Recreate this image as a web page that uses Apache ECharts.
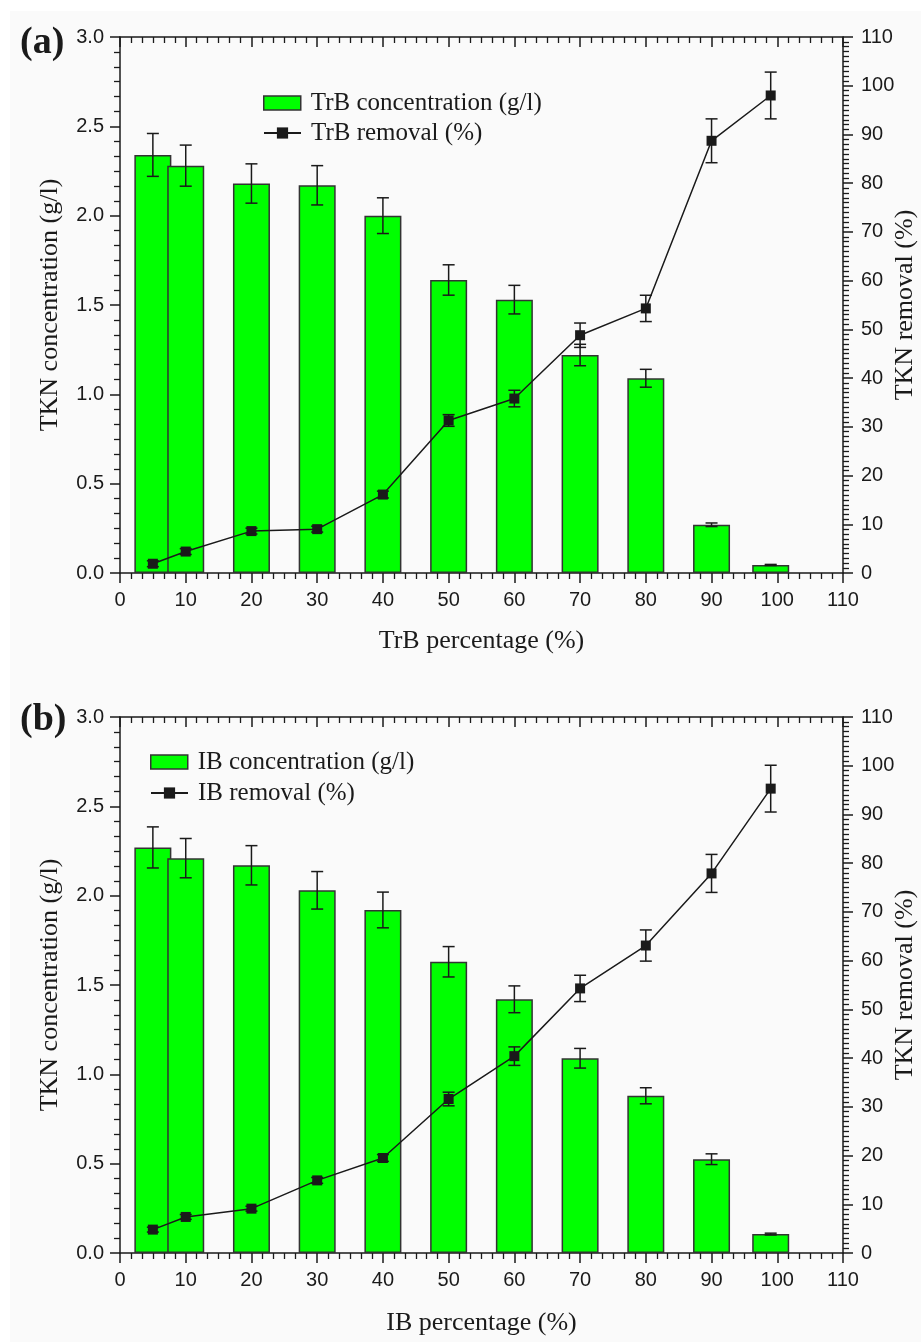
<!DOCTYPE html>
<html>
<head>
<meta charset="utf-8">
<script src="https://cdn.jsdelivr.net/npm/echarts@6/dist/echarts.min.js"></script>
<style>
  html, body { margin: 0; padding: 0; background: #ffffff; }
  #main { position: absolute; left: 10px; top: 11px; width: 911px; height: 1331px; background: #fafafa; }
</style>
</head>
<body>
<div id="main"></div>
<script>
// x positions (percentage of the bed material)
var percentages = [5, 10, 20, 30, 40, 50, 60, 70, 80, 90, 99];
var xTicks = [0, 10, 20, 30, 40, 50, 60, 70, 80, 90, 100, 110];

// panel (a) TrB
var trbConc = [2.34, 2.28, 2.18, 2.17, 2.00, 1.64, 1.53, 1.22, 1.09, 0.27, 0.045];
var trbConcErr = [0.12, 0.115, 0.11, 0.11, 0.10, 0.085, 0.08, 0.06, 0.05, 0.01, 0.003];
var trbRemoval = [1.9, 4.4, 8.6, 9.0, 16.1, 31.3, 35.8, 48.8, 54.3, 88.7, 98.0];
var trbRemovalErr = [0.6, 0.6, 0.6, 0.6, 0.7, 1.2, 1.7, 2.5, 2.7, 4.5, 4.8];

// panel (b) IB
var ibConc = [2.27, 2.21, 2.17, 2.03, 1.92, 1.63, 1.42, 1.09, 0.88, 0.525, 0.106];
var ibConcErr = [0.115, 0.11, 0.11, 0.105, 0.10, 0.085, 0.075, 0.055, 0.045, 0.03, 0.005];
var ibRemoval = [4.8, 7.4, 9.1, 14.9, 19.5, 31.6, 40.4, 54.3, 63.1, 77.9, 95.3];
var ibRemovalErr = [0.5, 0.5, 0.5, 0.6, 0.7, 1.4, 1.9, 2.7, 3.2, 3.9, 4.8];

var ink = '#1a1a1a';
var serif = '"Liberation Serif", "Times New Roman", serif';
var sans = '"Liberation Sans", Arial, sans-serif';

function pairs(xs, ys) {
    return xs.map(function (x, i) { return [x, ys[i]]; });
}
function triples(xs, ys, es) {
    return xs.map(function (x, i) { return [x, ys[i], es[i]]; });
}

// error bar drawn with the axis scales
function errorBar(api) {
    var x = api.value(0), y = api.value(1), e = api.value(2);
    var hi = api.coord([x, y + e]);
    var lo = api.coord([x, y - e]);
    var w = 6;
    var st = { stroke: ink, lineWidth: 1.5 };
    return {
        type: 'group',
        children: [
            { type: 'line', shape: { x1: hi[0], y1: hi[1], x2: lo[0], y2: lo[1] }, style: st },
            { type: 'line', shape: { x1: hi[0] - w, y1: hi[1], x2: hi[0] + w, y2: hi[1] }, style: st },
            { type: 'line', shape: { x1: lo[0] - w, y1: lo[1], x2: lo[0] + w, y2: lo[1] }, style: st }
        ]
    };
}

function xBottom(grid, name, gap) {
    return {
        gridIndex: grid, type: 'value', position: 'bottom', min: 0, max: 110, interval: 10,
        name: name, nameLocation: 'middle', nameGap: gap, nameMoveOverlap: false,
        nameTextStyle: { fontFamily: serif, fontSize: 26, color: ink },
        axisLine: { onZero: false, lineStyle: { color: ink, width: 1.5 } },
        axisTick: { inside: false, length: 10, lineStyle: { color: ink, width: 1.5 } },
        minorTick: { show: true, splitNumber: 6, length: 6, lineStyle: { color: ink, width: 1.3 } },
        axisLabel: { margin: 17, fontFamily: sans, fontSize: 20, color: ink,
            customValues: xTicks },
        splitLine: { show: false }
    };
}
function xTop(grid) {
    return {
        gridIndex: grid, type: 'value', position: 'top', min: 0, max: 110, interval: 10,
        axisLine: { onZero: false, lineStyle: { color: ink, width: 1.5 } },
        axisTick: { inside: true, length: 10, lineStyle: { color: ink, width: 1.5 } },
        minorTick: { show: true, splitNumber: 6, length: 6, lineStyle: { color: ink, width: 1.3 } },
        axisLabel: { show: false },
        splitLine: { show: false }
    };
}
function yLeft(grid) {
    return {
        gridIndex: grid, type: 'value', position: 'left', min: 0, max: 3, interval: 0.5,
        name: 'TKN concentration (g/l)', nameLocation: 'middle', nameGap: 57, nameRotate: 90,
        nameMoveOverlap: false,
        nameTextStyle: { fontFamily: serif, fontSize: 26, color: ink },
        axisLine: { onZero: false, lineStyle: { color: ink, width: 1.5 } },
        axisTick: { inside: false, length: 10, lineStyle: { color: ink, width: 1.5 } },
        minorTick: { show: true, splitNumber: 6, length: 6, lineStyle: { color: ink, width: 1.3 } },
        axisLabel: { margin: 16, fontFamily: sans, fontSize: 20, color: ink,
            formatter: function (v) { return v.toFixed(1); } },
        splitLine: { show: false }
    };
}
function yRight(grid) {
    return {
        gridIndex: grid, type: 'value', position: 'right', min: 0, max: 110, interval: 10,
        name: 'TKN removal (%)', nameLocation: 'middle', nameGap: 49, nameRotate: 90,
        nameMoveOverlap: false,
        nameTextStyle: { fontFamily: serif, fontSize: 26, color: ink },
        axisLine: { onZero: false, lineStyle: { color: ink, width: 1.5 } },
        axisTick: { inside: false, length: 10, lineStyle: { color: ink, width: 1.5 } },
        minorTick: { show: true, splitNumber: 10, length: 6, lineStyle: { color: ink, width: 1.3 } },
        axisLabel: { margin: 18, fontFamily: sans, fontSize: 20, color: ink },
        splitLine: { show: false }
    };
}

function panelSeries(label, xi, yl, yr, conc, concErr, rem, remErr) {
    return [
        {
            name: label + ' concentration (g/l)', type: 'bar',
            xAxisIndex: xi, yAxisIndex: yl, barWidth: 37, z: 2,
            itemStyle: { color: '#00ff00', borderColor: '#333', borderWidth: 1.5 },
            data: pairs(percentages, conc)
        },
        {
            type: 'custom', xAxisIndex: xi, yAxisIndex: yl, z: 3,
            renderItem: function (params, api) { return errorBar(api); },
            encode: { x: 0, y: 1 },
            data: triples(percentages, conc, concErr)
        },
        {
            type: 'custom', xAxisIndex: xi, yAxisIndex: yr, z: 4,
            renderItem: function (params, api) { return errorBar(api); },
            encode: { x: 0, y: 1 },
            data: triples(percentages, rem, remErr)
        },
        {
            name: label + ' removal (%)', type: 'line',
            xAxisIndex: xi, yAxisIndex: yr, z: 5,
            symbol: 'rect', symbolSize: 10,
            lineStyle: { color: ink, width: 1.5 },
            itemStyle: { color: ink },
            data: pairs(percentages, rem)
        }
    ];
}

function legendRow(name, left, top, isBar) {
    var item = { name: name };
    if (isBar) {
        item.icon = 'rect';
        item.itemStyle = { color: '#00ff00', borderColor: '#333', borderWidth: 1.5 };
    }
    return {
        data: [item], left: left, top: top, padding: 0,
        itemWidth: 37, itemHeight: 14, selectedMode: false,
        textStyle: { fontFamily: serif, fontSize: 25, color: ink, lineHeight: 26, padding: [0, 0, 0, 5] }
    };
}

var myChart = echarts.init(document.getElementById('main'));
var option = {
    animation: false,
    backgroundColor: '#fafafa',
    grid: [
        { left: 110, top: 26, width: 723, height: 536, outerBoundsMode: 'none' },
        { left: 110, top: 706, width: 723, height: 536, outerBoundsMode: 'none' }
    ],
    xAxis: [xBottom(0, 'TrB percentage (%)', 55), xTop(0), xBottom(1, 'IB percentage (%)', 57), xTop(1)],
    yAxis: [yLeft(0), yRight(0), yLeft(1), yRight(1)],
    legend: [
        legendRow('TrB concentration (g/l)', 253, 79, true),
        legendRow('TrB removal (%)', 253, 109, false),
        legendRow('IB concentration (g/l)', 140, 738, true),
        legendRow('IB removal (%)', 140, 769, false)
    ],
    graphic: [
        { type: 'text', left: 10, top: 13, style: { text: '(a)', font: 'bold 38px ' + serif, fill: ink } },
        { type: 'text', left: 10, top: 690, style: { text: '(b)', font: 'bold 38px ' + serif, fill: ink } }
    ],
    series: []
        .concat(panelSeries('TrB', 0, 0, 1, trbConc, trbConcErr, trbRemoval, trbRemovalErr))
        .concat(panelSeries('IB', 2, 2, 3, ibConc, ibConcErr, ibRemoval, ibRemovalErr))
};
myChart.setOption(option);
</script>
</body>
</html>
